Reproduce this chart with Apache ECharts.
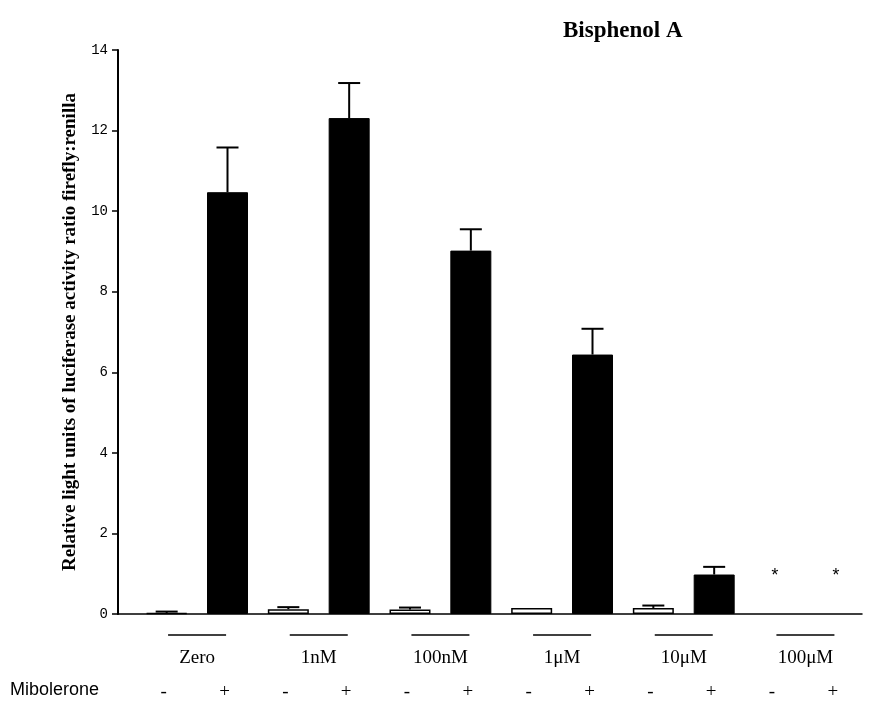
<!DOCTYPE html>
<html>
<head>
<meta charset="utf-8">
<script src="https://cdn.jsdelivr.net/npm/echarts@6/dist/echarts.min.js"></script>
<style>
  html, body { margin: 0; padding: 0; background: #fff; }
  #chart { width: 875px; height: 702px; }
</style>
</head>
<body>
<div id="chart"></div>
<script>
// doses of bisphenol A, each tested without (-) and with (+) mibolerone
var doses = ['Zero', '1nM', '100nM', '1\u03bcM', '10\u03bcM', '100\u03bcM'];
var mibSigns = ['-', '+'];
var noMib = [0.02, 0.12, 0.11, 0.15, 0.15, null];
var noMibErr = [0.04, 0.05, 0.05, 0, 0.06, null];
var withMib = [10.47, 12.31, 9.02, 6.44, 0.98, null];
var withMibErr = [1.11, 0.87, 0.53, 0.64, 0.19, null];
// doses with no measurable activity (marked with an asterisk)
var marked = [false, false, false, false, false, true];
var yMin = 0, yMax = 14, yStep = 2;

var FONT_SERIF = '"Liberation Serif", "Times New Roman", serif';
var FONT_MONO = '"Liberation Mono", "Courier New", monospace';

// slot index on the x axis: dose i -> 2i (without), 2i+1 (with)
var whiteData = [], blackData = [], errData = [], signData = [], starData = [], groupData = [];
for (var i = 0; i < doses.length; i++) {
  if (noMib[i] !== null) whiteData.push([2 * i, noMib[i]]);
  if (withMib[i] !== null) blackData.push([2 * i + 1, withMib[i]]);
  if (noMib[i] !== null && noMibErr[i] > 0) errData.push([2 * i, noMib[i], noMibErr[i]]);
  if (withMib[i] !== null && withMibErr[i] > 0) errData.push([2 * i + 1, withMib[i], withMibErr[i]]);
  signData.push([2 * i, 0, 0]);
  signData.push([2 * i + 1, 0, 1]);
  if (marked[i]) {
    starData.push([2 * i, 0]);
    starData.push([2 * i + 1, 0]);
  }
  groupData.push([2 * i + 0.5, 0, i]);
}

var chart = echarts.init(document.getElementById('chart'));

var option = {
  animation: false,
  backgroundColor: '#fff',
  title: {
    text: 'Bisphenol A',
    left: 558,
    top: 15,
    textStyle: { fontFamily: FONT_SERIF, fontWeight: 'bold', fontSize: 23, color: '#000' }
  },
  grid: { left: 118, right: 13, top: 50, bottom: 88, containLabel: false },
  xAxis: {
    type: 'value',
    min: -0.8,
    max: 11.43,
    axisLine: { show: true, onZero: false, lineStyle: { color: '#000', width: 1.5 } },
    axisTick: { show: false },
    axisLabel: { show: false },
    splitLine: { show: false }
  },
  yAxis: {
    type: 'value',
    min: yMin,
    max: yMax,
    interval: yStep,
    name: 'Relative light units of luciferase activity ratio firefly:renilla',
    nameLocation: 'middle',
    nameGap: 38,
    nameTextStyle: { fontFamily: FONT_SERIF, fontWeight: 'bold', fontSize: 19, color: '#000' },
    axisLine: { show: true, onZero: false, lineStyle: { color: '#000', width: 2 } },
    axisTick: { show: true, inside: false, length: 6, lineStyle: { color: '#000', width: 1.5 } },
    axisLabel: { fontFamily: FONT_MONO, fontSize: 14, color: '#000', margin: 10 },
    splitLine: { show: false }
  },
  series: [{
    name: 'without',
    type: 'bar',
    barWidth: 41,
    data: whiteData,
    itemStyle: { color: '#fff', borderColor: '#000', borderWidth: 1.5 }
  }, {
    name: 'with',
    type: 'bar',
    barWidth: 41,
    barGap: '-100%',
    data: blackData,
    itemStyle: { color: '#000', borderColor: '#000', borderWidth: 1 }
  }, {
    name: 'error',
    type: 'custom',
    data: errData,
    z: 5,
    renderItem: function(params, api) {
      var base = api.coord([api.value(0), api.value(1)]);
      var top = api.coord([api.value(0), api.value(1) + api.value(2)]);
      var st = { stroke: '#000', lineWidth: 2 };
      return {
        type: 'group',
        children: [
          { type: 'line', shape: { x1: base[0], y1: base[1], x2: top[0], y2: top[1] }, style: st },
          { type: 'line', shape: { x1: top[0] - 11, y1: top[1], x2: top[0] + 11, y2: top[1] }, style: st }
        ]
      };
    }
  }, {
    name: 'stars',
    type: 'custom',
    data: starData,
    renderItem: function(params, api) {
      var p = api.coord([api.value(0), api.value(1)]);
      return {
        type: 'text',
        style: { text: '*', x: p[0], y: p[1] - 38, align: 'center', verticalAlign: 'middle',
          font: '18px ' + FONT_MONO, fill: '#000' }
      };
    }
  }, {
    name: 'groups',
    type: 'custom',
    data: groupData,
    renderItem: function(params, api) {
      var p = api.coord([api.value(0), api.value(1)]);
      return {
        type: 'group',
        children: [
          { type: 'line', shape: { x1: p[0] - 29, y1: p[1] + 21, x2: p[0] + 29, y2: p[1] + 21 },
            style: { stroke: '#000', lineWidth: 1.5 } },
          { type: 'text', style: { text: doses[api.value(2)], x: p[0], y: p[1] + 44,
            align: 'center', verticalAlign: 'middle', font: '19px ' + FONT_SERIF, fill: '#000' } }
        ]
      };
    }
  }, {
    name: 'signs',
    type: 'custom',
    data: signData,
    renderItem: function(params, api) {
      var p = api.coord([api.value(0), api.value(1)]);
      return {
        type: 'text',
        style: { text: mibSigns[api.value(2)], x: p[0] - 3, y: p[1] + 78,
          align: 'center', verticalAlign: 'middle', font: '19px ' + FONT_SERIF, fill: '#000' }
      };
    }
  }],
  graphic: [{
    type: 'text',
    left: 10,
    top: 681,
    style: { text: 'Mibolerone', font: '18px "Liberation Sans", Arial, sans-serif', fill: '#000' }
  }]
};

chart.setOption(option);
</script>
</body>
</html>
